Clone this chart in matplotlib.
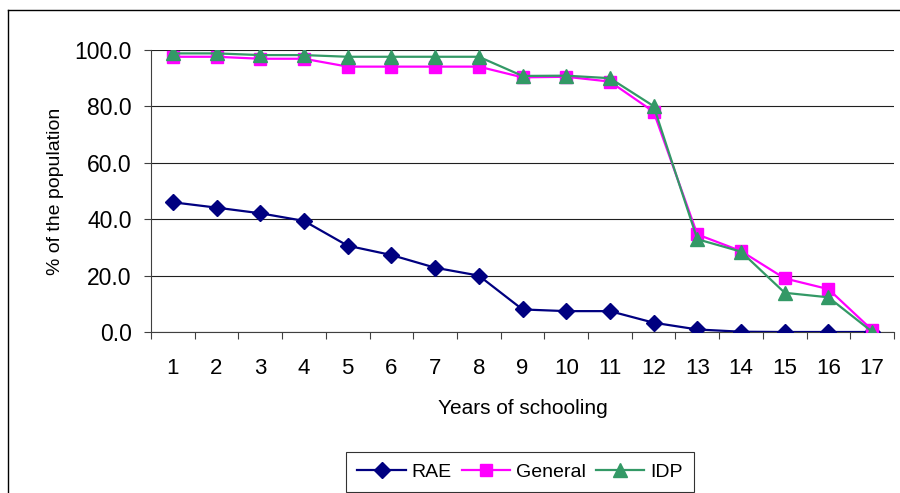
import matplotlib.pyplot as plt
from matplotlib.lines import Line2D

# years of schooling
years = list(range(1, 18))

# % of the population
rae = [46.0, 44.1, 42.1, 39.4, 30.6, 27.3, 22.8, 20.0, 8.0, 7.4, 7.4, 3.3, 0.9, 0.1, 0.0, 0.0, 0.0]
general = [97.6, 97.6, 96.9, 96.9, 94.1, 94.1, 94.1, 94.1, 90.3, 90.5, 88.8, 78.1, 34.6, 28.7, 19.0, 15.2, 0.7]
idp = [98.8, 98.8, 98.2, 98.2, 97.6, 97.6, 97.6, 97.6, 90.8, 90.9, 90.0, 80.1, 32.9, 28.5, 13.9, 12.3, 0.1]

plt.rcParams['font.family'] = ['Liberation Sans', 'DejaVu Sans']

fig = plt.figure(figsize=(9, 4.93), dpi=100)
ax = fig.add_axes([151 / 900, 1 - 332 / 493, (894 - 151) / 900, (332 - 50) / 493])

ax.plot(years, rae, color='#000080', lw=1.6, marker='D', ms=8.5, label='RAE', zorder=3)
ax.plot(years, general, color='#FF00FF', lw=1.6, marker='s', ms=8.5, label='General', zorder=3)
ax.plot(years, idp, color='#339966', lw=1.6, marker='^', ms=10.5, label='IDP', zorder=4)

ax.set_xlim(0.5, 17.5)
ax.set_ylim(0, 100)
ax.set_yticks([0, 20, 40, 60, 80, 100])
ax.set_yticklabels([f'{v:.1f}' for v in [0, 20, 40, 60, 80, 100]])
ax.set_xticks(years)
ax.set_xticks([y + 0.5 for y in range(0, 18)], minor=True)
ax.tick_params(axis='x', which='major', length=0, pad=19, labelsize=16)
ax.tick_params(axis='x', which='minor', length=5, width=0.8, color='#404040')
ax.tick_params(axis='y', length=5, width=0.8, color='#404040', labelsize=16.5, pad=9)
ax.grid(axis='y', color='#202020', lw=0.8)
ax.set_axisbelow(True)

for s in ['top', 'right']:
    ax.spines[s].set_visible(False)
ax.spines['left'].set_color('#404040')
ax.spines['bottom'].set_color('#404040')
ax.spines['left'].set_linewidth(0.8)
ax.spines['bottom'].set_linewidth(0.8)

ax.set_xlabel('Years of schooling', fontsize=15, labelpad=14)
ax.set_ylabel('% of the population', fontsize=14, labelpad=7)

leg = ax.legend(loc='center', bbox_to_anchor=(520 / 900, 1 - 472 / 493), bbox_transform=fig.transFigure,
                ncol=3, fontsize=14, frameon=True, fancybox=False, edgecolor='black',
                handlelength=2.5, handletextpad=0.3, columnspacing=0.5, borderpad=0.6)
leg.get_frame().set_linewidth(0.8)

# outer chart border (left and top visible)
fig.add_artist(Line2D([8 / 900, 8 / 900], [0, 1 - 10 / 493], transform=fig.transFigure, color='black', lw=1))
fig.add_artist(Line2D([8 / 900, 1], [1 - 10 / 493, 1 - 10 / 493], transform=fig.transFigure, color='black', lw=1))

fig.savefig('out.png', dpi=100)
